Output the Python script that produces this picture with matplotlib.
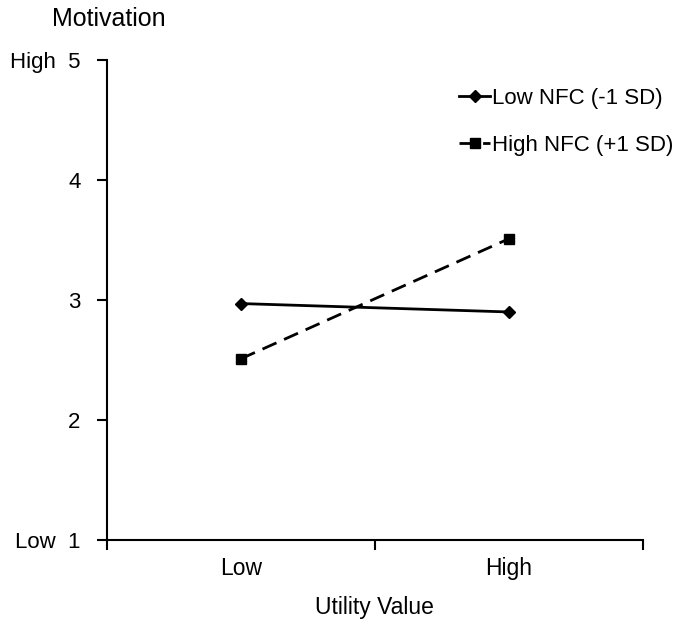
import matplotlib
matplotlib.use("Agg")
import matplotlib.pyplot as plt

plt.rcParams['font.family'] = ['Liberation Sans', 'DejaVu Sans']

categories = ["Low", "High"]
low_nfc = [2.97, 2.90]
high_nfc = [2.51, 3.51]
y_ticks = [1, 2, 3, 4, 5]
y_labels = ["Low  1", "2", "3", "4", "High  5"]

fig = plt.figure(figsize=(6.86, 6.22), dpi=100)
ax = fig.add_axes([0.156, 0.132, 0.781, 0.7715])

xpos = [0.5, 1.5]
ax.plot(xpos, low_nfc, color="black", lw=2, marker="D", ms=6,
        label="Low NFC (-1 SD)")
ax.plot(xpos, high_nfc, color="black", lw=2, ls=(0, (5.5, 3)), marker="s", ms=7,
        label="High NFC (+1 SD)")

ax.set_xlim(0, 2)
ax.set_ylim(1, 5)
ax.set_xticks([0, 1, 2])
ax.set_xticklabels([])
ax.set_xticks(xpos, minor=True)
ax.set_xticklabels(categories, minor=True, fontsize=16.5)
ax.tick_params(axis="x", which="minor", length=0, pad=12)
ax.tick_params(axis="x", which="major", length=7, width=1.5)
ax.set_yticks(y_ticks)
ax.set_yticklabels(y_labels, fontsize=16)
ax.tick_params(axis="y", length=7, width=1.5, pad=12)

for s in ["top", "right"]:
    ax.spines[s].set_visible(False)
for s in ["left", "bottom"]:
    ax.spines[s].set_linewidth(1.5)

ax.set_xlabel("Utility Value", fontsize=16.5, labelpad=12)
fig.text(0.076, 0.97, "Motivation", fontsize=18, va="center")

leg = ax.legend(loc="upper right", bbox_to_anchor=(1.095, 0.983), frameon=False,
                fontsize=16, handlelength=1.4, handletextpad=0.1, labelspacing=1.15)

fig.savefig("out.png", dpi=100)
